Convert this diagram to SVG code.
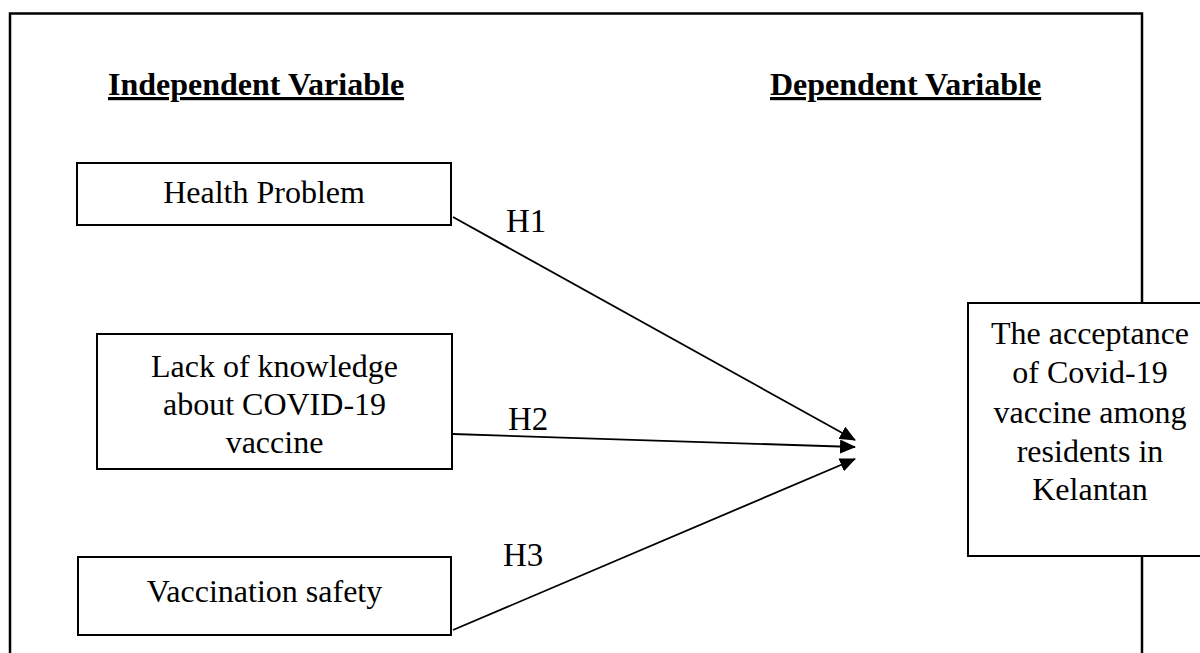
<svg xmlns="http://www.w3.org/2000/svg" width="1200" height="653" viewBox="0 0 1200 653">
  <defs>
    <style>
      .frame { fill: none; stroke: #000; stroke-width: 2.5; }
      .box { fill: #fff; stroke: #000; stroke-width: 2; }
      .label { font-family: "Liberation Serif", "Times New Roman", serif; font-size: 32px; fill: #000; text-anchor: middle; }
      .head { font-family: "Liberation Serif", "Times New Roman", serif; font-size: 32px; font-weight: bold; fill: #000; text-decoration: underline; }
      .hyp { font-family: "Liberation Serif", "Times New Roman", serif; font-size: 33px; fill: #000; }
      .edge { stroke: #000; stroke-width: 1.8; fill: none; marker-end: url(#arrow); }
    </style>
    <marker id="arrow" markerUnits="userSpaceOnUse" markerWidth="16" markerHeight="14" refX="15" refY="7" orient="auto">
      <path d="M0,0 L16,7 L0,14 z" fill="#000"/>
    </marker>
  </defs>

  <rect width="1200" height="653" fill="#fff"/>

  <!-- outer frame -->
  <rect class="frame" x="10" y="13.5" width="1132" height="700"/>

  <!-- column headings -->
  <text class="head" x="108" y="95">Independent Variable</text>
  <text class="head" x="770" y="95">Dependent Variable</text>

  <g id="health-problem">
    <rect class="box" x="77" y="163" width="374" height="62"/>
    <text class="label" x="264" y="203">Health Problem</text>
  </g>

  <g id="lack-of-knowledge">
    <rect class="box" x="97" y="334" width="355" height="135"/>
    <text class="label" x="274.5" y="377">Lack of knowledge</text>
    <text class="label" x="274.5" y="415">about COVID-19</text>
    <text class="label" x="274.5" y="453">vaccine</text>
  </g>

  <g id="vaccination-safety">
    <rect class="box" x="78" y="557" width="373" height="78"/>
    <text class="label" x="264.5" y="602">Vaccination safety</text>
  </g>

  <g id="acceptance">
    <rect class="box" x="968" y="303" width="250" height="253"/>
    <text class="label" x="1090" y="344">The acceptance</text>
    <text class="label" x="1090" y="383">of Covid-19</text>
    <text class="label" x="1090" y="423">vaccine among</text>
    <text class="label" x="1090" y="462">residents in</text>
    <text class="label" x="1090" y="500">Kelantan</text>
  </g>

  <g id="connectors">
    <line class="edge" x1="453" y1="217" x2="855" y2="440"/>
    <line class="edge" x1="453" y1="434" x2="855" y2="447"/>
    <line class="edge" x1="453" y1="630" x2="855" y2="459"/>
    <text class="hyp" x="506" y="232">H1</text>
    <text class="hyp" x="508" y="430">H2</text>
    <text class="hyp" x="503" y="566">H3</text>
  </g>
</svg>
